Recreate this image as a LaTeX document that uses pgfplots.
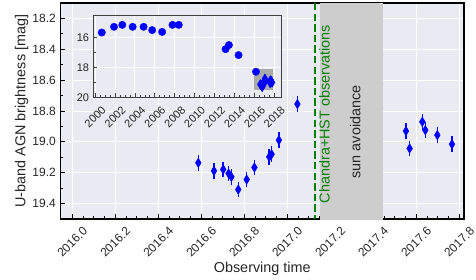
\documentclass[border=0pt]{standalone}
\usepackage{fontspec}
\setmainfont{Liberation Sans}
\usepackage{pgfplots}
\usepackage{pgfplotstable}
\pgfplotsset{compat=1.18}
\definecolor{bgc}{RGB}{234,234,242}
\definecolor{txt}{RGB}{38,38,38}
\definecolor{bandc}{RGB}{205,205,205}
\definecolor{rectc}{RGB}{170,170,170}
\definecolor{dgreen}{RGB}{0,128,0}

\pgfplotstableread{
x y
2016.586 19.136
2016.659 19.188
2016.702 19.179
2016.727 19.205
2016.740 19.227
2016.772 19.309
2016.811 19.244
2016.847 19.166
2016.916 19.097
2016.927 19.080
2016.961 18.989
2017.047 18.755
2017.552 18.930
2017.569 19.043
2017.628 18.870
2017.642 18.924
2017.698 18.956
2017.766 19.015
}\maindata

\pgfplotstableread{
x y
2000.67 15.67
2001.90 15.29
2002.73 15.16
2003.77 15.29
2004.87 15.29
2005.73 15.51
2006.73 15.63
2007.77 15.16
2008.40 15.16
2013.10 16.78
2013.43 16.51
2014.40 17.18
2016.15 18.29
}\olddata

\begin{document}
\begin{tikzpicture}
\begin{axis}[
  at={(0,0)}, anchor=south west,
  scale only axis, width=403.5bp, height=216bp,
  xmin=2015.945, xmax=2017.822,
  ymin=18.1, ymax=19.5, y dir=reverse,
  axis background/.style={fill=bgc},
  axis line style={black, line width=1.25bp},
  grid=major,
  major grid style={white, line width=1bp},
  tick align=inside, tick pos=left,
  major tick length=5bp, minor tick length=3bp,
  tick style={black, line width=1bp},
  xtick={2016,2016.2,2016.4,2016.6,2016.8,2017,2017.2,2017.4,2017.6,2017.8},
  xticklabels={2016.0,2016.2,2016.4,2016.6,2016.8,2017.0,2017.2,2017.4,2017.6,2017.8},
  minor x tick num=3,
  ytick={18.2,18.4,18.6,18.8,19.0,19.2,19.4},
  yticklabels={18.2,18.4,18.6,18.8,19.0,19.2,19.4},
  minor y tick num=1,
  tick label style={font=\fontsize{12bp}{14bp}\selectfont, text=txt},
  xticklabel style={yshift=-23bp, rotate=45, anchor=center, inner sep=0pt},
  yticklabel style={anchor=east, inner sep=0pt, xshift=-4.5bp},
  label style={font=\fontsize{14.4bp}{17bp}\selectfont, text=txt},
  xlabel={Observing time},
  xlabel style={at={(axis description cs:0.5,-0.2468)}, anchor=base},
  ylabel={U-band AGN brightness [mag]},
  ylabel style={at={(axis description cs:-0.0872,0.5)}, anchor=base},
]
\addplot[fill=bandc, draw=none] coordinates {(2017.152,18.0) (2017.443,18.0) (2017.443,19.6) (2017.152,19.6)} -- cycle;
\addplot[dgreen, line width=2bp, dash pattern=on 7.4bp off 3.2bp] coordinates {(2017.131,18.1) (2017.131,19.5)};
\addplot[blue, only marks, mark=diamond*, mark size=4.8bp, mark options={xscale=0.8},
  error bars/.cd, y dir=both, y fixed=0.05, error mark=none,
  error bar style={line width=1.5bp, blue}] table {\maindata};
\node[rotate=90, anchor=base west, inner sep=0pt, text=dgreen, font=\fontsize{14.4bp}{17bp}\selectfont] at (axis cs:2017.197,19.398) {Chandra+HST observations};
\node[rotate=90, anchor=base west, inner sep=0pt, text=txt, font=\fontsize{14.4bp}{17bp}\selectfont] at (axis cs:2017.340,19.238) {sun avoidance};
\end{axis}

\begin{axis}[
  at={(32.8bp,121.7bp)}, anchor=south west,
  scale only axis, width=187.7bp, height=82.3bp,
  xmin=1999.82, xmax=2018.66,
  ymin=14.5, ymax=20, y dir=reverse,
  axis background/.style={fill=bgc},
  axis line style={black!75, line width=1bp},
  grid=major,
  major grid style={white, line width=1bp},
  tick align=inside, tick pos=left,
  major tick length=4bp, minor tick length=2.5bp,
  tick style={black!75, line width=0.8bp},
  xtick={2000,2002,2004,2006,2008,2010,2012,2014,2016,2018},
  xticklabels={2000,2002,2004,2006,2008,2010,2012,2014,2016,2018},
  minor x tick num=3,
  ytick={16,18,20},
  yticklabels={16,18,20},
  minor y tick num=1,
  tick label style={font=\fontsize{11bp}{13bp}\selectfont, text=txt},
  xticklabel style={yshift=-19.4bp, rotate=45, anchor=center, inner sep=0pt},
  yticklabel style={anchor=east, inner sep=0pt, xshift=-4bp},
]
\addplot[fill=rectc, draw=none] coordinates {(2015.945,18.1) (2017.822,18.1) (2017.822,19.5) (2015.945,19.5)} -- cycle;
\addplot[blue, only marks, mark=*, mark size=3.7bp] table {\olddata};
\addplot[blue, only marks, mark=diamond*, mark size=4.8bp, mark options={xscale=0.8}] table {\maindata};
\end{axis}
\pgfresetboundingbox
\path[use as bounding box] (-60.5bp,-61bp) rectangle (415.5bp,219bp);
\end{tikzpicture}
\end{document}
